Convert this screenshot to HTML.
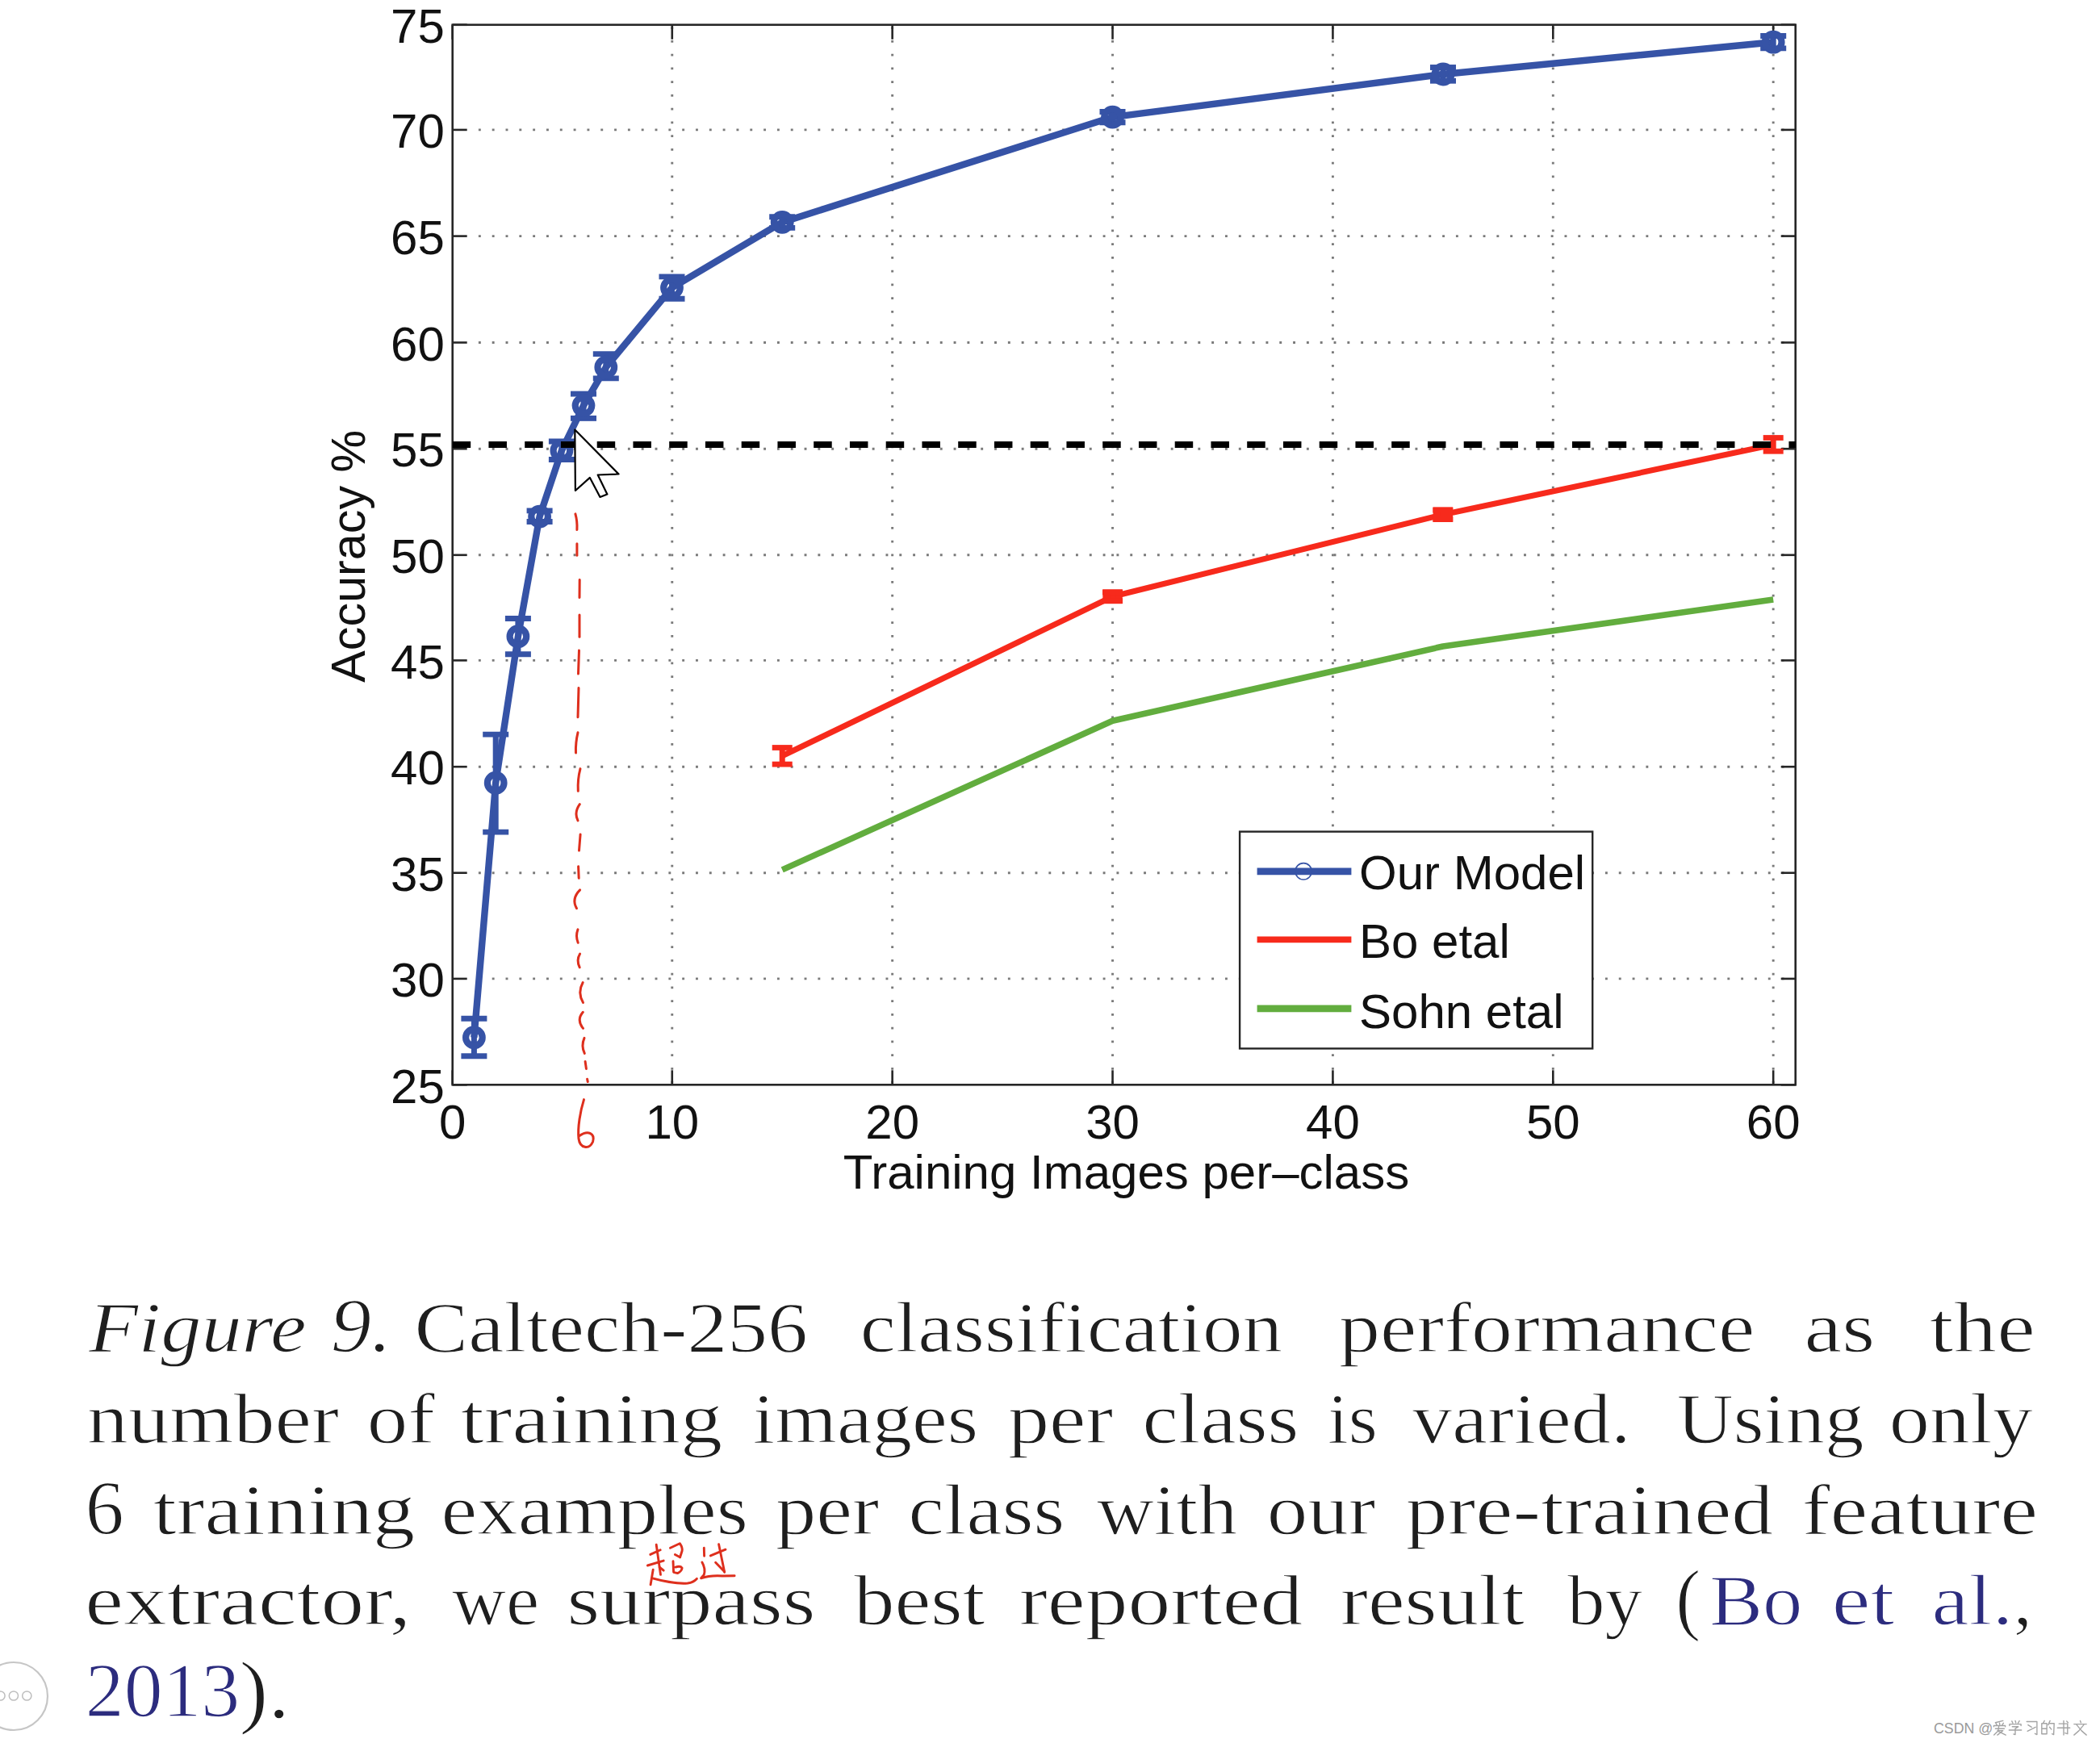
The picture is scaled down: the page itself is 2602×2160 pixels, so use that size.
<!DOCTYPE html>
<html><head><meta charset="utf-8"><style>
html,body{margin:0;padding:0;background:#fff;width:2602px;height:2160px;overflow:hidden}
svg{position:absolute;left:0;top:0}
.t{font-family:"Liberation Sans",sans-serif;font-size:60px;fill:#111}
.c{font-family:"Liberation Serif",serif;font-size:91px;stroke:#fff;stroke-width:1.3px;paint-order:normal}
</style></head><body>
<svg width="2602" height="2160" viewBox="0 0 2602 2160">
<line x1="832.78" y1="33.20" x2="832.78" y2="1344.30" stroke="#7a7a7a" stroke-width="2.9" stroke-dasharray="2.9 13.85"/>
<line x1="1105.66" y1="33.20" x2="1105.66" y2="1344.30" stroke="#7a7a7a" stroke-width="2.9" stroke-dasharray="2.9 13.85"/>
<line x1="1378.54" y1="33.20" x2="1378.54" y2="1344.30" stroke="#7a7a7a" stroke-width="2.9" stroke-dasharray="2.9 13.85"/>
<line x1="1651.42" y1="33.20" x2="1651.42" y2="1344.30" stroke="#7a7a7a" stroke-width="2.9" stroke-dasharray="2.9 13.85"/>
<line x1="1924.30" y1="33.20" x2="1924.30" y2="1344.30" stroke="#7a7a7a" stroke-width="2.9" stroke-dasharray="2.9 13.85"/>
<line x1="2197.18" y1="33.20" x2="2197.18" y2="1344.30" stroke="#7a7a7a" stroke-width="2.9" stroke-dasharray="2.9 13.85"/>
<line x1="592.90" y1="1212.90" x2="2224.70" y2="1212.90" stroke="#7a7a7a" stroke-width="2.9" stroke-dasharray="2.9 13.92"/>
<line x1="592.90" y1="1081.70" x2="2224.70" y2="1081.70" stroke="#7a7a7a" stroke-width="2.9" stroke-dasharray="2.9 13.92"/>
<line x1="592.90" y1="950.20" x2="2224.70" y2="950.20" stroke="#7a7a7a" stroke-width="2.9" stroke-dasharray="2.9 13.92"/>
<line x1="592.90" y1="818.40" x2="2224.70" y2="818.40" stroke="#7a7a7a" stroke-width="2.9" stroke-dasharray="2.9 13.92"/>
<line x1="592.90" y1="687.80" x2="2224.70" y2="687.80" stroke="#7a7a7a" stroke-width="2.9" stroke-dasharray="2.9 13.92"/>
<line x1="592.90" y1="556.20" x2="2224.70" y2="556.20" stroke="#7a7a7a" stroke-width="2.9" stroke-dasharray="2.9 13.92"/>
<line x1="592.90" y1="424.50" x2="2224.70" y2="424.50" stroke="#7a7a7a" stroke-width="2.9" stroke-dasharray="2.9 13.92"/>
<line x1="592.90" y1="292.60" x2="2224.70" y2="292.60" stroke="#7a7a7a" stroke-width="2.9" stroke-dasharray="2.9 13.92"/>
<line x1="592.90" y1="160.90" x2="2224.70" y2="160.90" stroke="#7a7a7a" stroke-width="2.9" stroke-dasharray="2.9 13.92"/>
<rect x="560.7" y="30.75" width="1663.9999999999998" height="1313.55" fill="none" stroke="#262626" stroke-width="2.6"/>
<line x1="560.70" y1="1344.3" x2="560.70" y2="1326.3" stroke="#262626" stroke-width="2.6"/>
<line x1="560.70" y1="30.75" x2="560.70" y2="48.75" stroke="#262626" stroke-width="2.6"/>
<line x1="832.78" y1="1344.3" x2="832.78" y2="1326.3" stroke="#262626" stroke-width="2.6"/>
<line x1="832.78" y1="30.75" x2="832.78" y2="48.75" stroke="#262626" stroke-width="2.6"/>
<line x1="1105.66" y1="1344.3" x2="1105.66" y2="1326.3" stroke="#262626" stroke-width="2.6"/>
<line x1="1105.66" y1="30.75" x2="1105.66" y2="48.75" stroke="#262626" stroke-width="2.6"/>
<line x1="1378.54" y1="1344.3" x2="1378.54" y2="1326.3" stroke="#262626" stroke-width="2.6"/>
<line x1="1378.54" y1="30.75" x2="1378.54" y2="48.75" stroke="#262626" stroke-width="2.6"/>
<line x1="1651.42" y1="1344.3" x2="1651.42" y2="1326.3" stroke="#262626" stroke-width="2.6"/>
<line x1="1651.42" y1="30.75" x2="1651.42" y2="48.75" stroke="#262626" stroke-width="2.6"/>
<line x1="1924.30" y1="1344.3" x2="1924.30" y2="1326.3" stroke="#262626" stroke-width="2.6"/>
<line x1="1924.30" y1="30.75" x2="1924.30" y2="48.75" stroke="#262626" stroke-width="2.6"/>
<line x1="2197.18" y1="1344.3" x2="2197.18" y2="1326.3" stroke="#262626" stroke-width="2.6"/>
<line x1="2197.18" y1="30.75" x2="2197.18" y2="48.75" stroke="#262626" stroke-width="2.6"/>
<line x1="560.7" y1="1344.30" x2="578.7" y2="1344.30" stroke="#262626" stroke-width="2.6"/>
<line x1="2224.7" y1="1344.30" x2="2206.7" y2="1344.30" stroke="#262626" stroke-width="2.6"/>
<line x1="560.7" y1="1212.90" x2="578.7" y2="1212.90" stroke="#262626" stroke-width="2.6"/>
<line x1="2224.7" y1="1212.90" x2="2206.7" y2="1212.90" stroke="#262626" stroke-width="2.6"/>
<line x1="560.7" y1="1081.70" x2="578.7" y2="1081.70" stroke="#262626" stroke-width="2.6"/>
<line x1="2224.7" y1="1081.70" x2="2206.7" y2="1081.70" stroke="#262626" stroke-width="2.6"/>
<line x1="560.7" y1="950.20" x2="578.7" y2="950.20" stroke="#262626" stroke-width="2.6"/>
<line x1="2224.7" y1="950.20" x2="2206.7" y2="950.20" stroke="#262626" stroke-width="2.6"/>
<line x1="560.7" y1="818.40" x2="578.7" y2="818.40" stroke="#262626" stroke-width="2.6"/>
<line x1="2224.7" y1="818.40" x2="2206.7" y2="818.40" stroke="#262626" stroke-width="2.6"/>
<line x1="560.7" y1="687.80" x2="578.7" y2="687.80" stroke="#262626" stroke-width="2.6"/>
<line x1="2224.7" y1="687.80" x2="2206.7" y2="687.80" stroke="#262626" stroke-width="2.6"/>
<line x1="560.7" y1="556.20" x2="578.7" y2="556.20" stroke="#262626" stroke-width="2.6"/>
<line x1="2224.7" y1="556.20" x2="2206.7" y2="556.20" stroke="#262626" stroke-width="2.6"/>
<line x1="560.7" y1="424.50" x2="578.7" y2="424.50" stroke="#262626" stroke-width="2.6"/>
<line x1="2224.7" y1="424.50" x2="2206.7" y2="424.50" stroke="#262626" stroke-width="2.6"/>
<line x1="560.7" y1="292.60" x2="578.7" y2="292.60" stroke="#262626" stroke-width="2.6"/>
<line x1="2224.7" y1="292.60" x2="2206.7" y2="292.60" stroke="#262626" stroke-width="2.6"/>
<line x1="560.7" y1="160.90" x2="578.7" y2="160.90" stroke="#262626" stroke-width="2.6"/>
<line x1="2224.7" y1="160.90" x2="2206.7" y2="160.90" stroke="#262626" stroke-width="2.6"/>
<line x1="560.7" y1="30.75" x2="578.7" y2="30.75" stroke="#262626" stroke-width="2.6"/>
<line x1="2224.7" y1="30.75" x2="2206.7" y2="30.75" stroke="#262626" stroke-width="2.6"/>
<text x="550.8" y="1366.50" text-anchor="end" class="t">25</text>
<text x="550.8" y="1235.10" text-anchor="end" class="t">30</text>
<text x="550.8" y="1103.90" text-anchor="end" class="t">35</text>
<text x="550.8" y="972.40" text-anchor="end" class="t">40</text>
<text x="550.8" y="840.60" text-anchor="end" class="t">45</text>
<text x="550.8" y="710.00" text-anchor="end" class="t">50</text>
<text x="550.8" y="578.40" text-anchor="end" class="t">55</text>
<text x="550.8" y="446.70" text-anchor="end" class="t">60</text>
<text x="550.8" y="314.80" text-anchor="end" class="t">65</text>
<text x="550.8" y="183.10" text-anchor="end" class="t">70</text>
<text x="550.8" y="52.95" text-anchor="end" class="t">75</text>
<text x="560.70" y="1411" text-anchor="middle" class="t">0</text>
<text x="832.78" y="1411" text-anchor="middle" class="t">10</text>
<text x="1105.66" y="1411" text-anchor="middle" class="t">20</text>
<text x="1378.54" y="1411" text-anchor="middle" class="t">30</text>
<text x="1651.42" y="1411" text-anchor="middle" class="t">40</text>
<text x="1924.30" y="1411" text-anchor="middle" class="t">50</text>
<text x="2197.18" y="1411" text-anchor="middle" class="t">60</text>
<text x="1395.5" y="1473.2" text-anchor="middle" class="t">Training Images per–class</text>
<text transform="translate(452.3 689.2) rotate(-90)" x="0" y="0" text-anchor="middle" class="t" style="font-size:59.3px">Accuracy %</text>
<polyline points="969.22,1077.90 1378.54,893.30 1787.86,801.00 2197.18,742.90" fill="none" stroke="#62ad3e" stroke-width="7.6" stroke-linejoin="round"/>
<polyline points="969.22,936.80 1378.54,739.30 1787.86,637.70 2197.18,551.00" fill="none" stroke="#f72a1c" stroke-width="7.1" stroke-linejoin="round"/>
<line x1="969.22" y1="926.5" x2="969.22" y2="947.1" stroke="#f72a1c" stroke-width="7"/>
<line x1="956.72" y1="926.5" x2="981.72" y2="926.5" stroke="#f72a1c" stroke-width="6.8"/>
<line x1="956.72" y1="947.1" x2="981.72" y2="947.1" stroke="#f72a1c" stroke-width="6.8"/>
<rect x="1366.34" y="730.40" width="24.4" height="17.80" fill="#f72a1c"/>
<line x1="1378.54" y1="734.0" x2="1378.54" y2="744.6" stroke="#f72a1c" stroke-width="7"/>
<line x1="1366.04" y1="734.0" x2="1391.04" y2="734.0" stroke="#f72a1c" stroke-width="6.8"/>
<line x1="1366.04" y1="744.6" x2="1391.04" y2="744.6" stroke="#f72a1c" stroke-width="6.8"/>
<rect x="1775.66" y="628.50" width="24.4" height="18.50" fill="#f72a1c"/>
<line x1="1787.86" y1="632.1" x2="1787.86" y2="643.4" stroke="#f72a1c" stroke-width="7"/>
<line x1="1775.36" y1="632.1" x2="1800.36" y2="632.1" stroke="#f72a1c" stroke-width="6.8"/>
<line x1="1775.36" y1="643.4" x2="1800.36" y2="643.4" stroke="#f72a1c" stroke-width="6.8"/>
<line x1="2197.18" y1="542.5" x2="2197.18" y2="559.2" stroke="#f72a1c" stroke-width="7"/>
<line x1="2184.68" y1="542.5" x2="2209.68" y2="542.5" stroke="#f72a1c" stroke-width="6.8"/>
<line x1="2184.68" y1="559.2" x2="2209.68" y2="559.2" stroke="#f72a1c" stroke-width="6.8"/>
<polyline points="587.40,1285.70 614.20,970.20 641.90,788.70 668.60,640.10 695.90,558.40 723.00,502.60 750.80,455.10 832.50,356.60 969.20,275.40 1378.50,145.10 1788.00,92.00 2197.20,52.20" fill="none" stroke="#3653a6" stroke-width="8.4" stroke-linejoin="round"/>
<line x1="587.40" y1="1262.3" x2="587.40" y2="1308.8" stroke="#3653a6" stroke-width="7"/>
<line x1="571.40" y1="1262.3" x2="603.40" y2="1262.3" stroke="#3653a6" stroke-width="6.9"/>
<line x1="571.40" y1="1308.8" x2="603.40" y2="1308.8" stroke="#3653a6" stroke-width="6.9"/>
<circle cx="587.40" cy="1285.7" r="10.3" fill="none" stroke="#3653a6" stroke-width="8.2"/>
<line x1="614.20" y1="910.1" x2="614.20" y2="1031.1" stroke="#3653a6" stroke-width="7"/>
<line x1="598.20" y1="910.1" x2="630.20" y2="910.1" stroke="#3653a6" stroke-width="6.9"/>
<line x1="598.20" y1="1031.1" x2="630.20" y2="1031.1" stroke="#3653a6" stroke-width="6.9"/>
<circle cx="614.20" cy="970.2" r="10.3" fill="none" stroke="#3653a6" stroke-width="8.2"/>
<line x1="641.90" y1="766.5" x2="641.90" y2="810.7" stroke="#3653a6" stroke-width="7"/>
<line x1="625.90" y1="766.5" x2="657.90" y2="766.5" stroke="#3653a6" stroke-width="6.9"/>
<line x1="625.90" y1="810.7" x2="657.90" y2="810.7" stroke="#3653a6" stroke-width="6.9"/>
<circle cx="641.90" cy="788.7" r="10.3" fill="none" stroke="#3653a6" stroke-width="8.2"/>
<line x1="668.60" y1="632.9" x2="668.60" y2="646.5" stroke="#3653a6" stroke-width="7"/>
<line x1="652.60" y1="632.9" x2="684.60" y2="632.9" stroke="#3653a6" stroke-width="6.9"/>
<line x1="652.60" y1="646.5" x2="684.60" y2="646.5" stroke="#3653a6" stroke-width="6.9"/>
<circle cx="668.60" cy="640.1" r="10.3" fill="none" stroke="#3653a6" stroke-width="8.2"/>
<line x1="695.90" y1="547.0" x2="695.90" y2="569.5" stroke="#3653a6" stroke-width="7"/>
<line x1="679.90" y1="547.0" x2="711.90" y2="547.0" stroke="#3653a6" stroke-width="6.9"/>
<line x1="679.90" y1="569.5" x2="711.90" y2="569.5" stroke="#3653a6" stroke-width="6.9"/>
<circle cx="695.90" cy="558.4" r="10.3" fill="none" stroke="#3653a6" stroke-width="8.2"/>
<line x1="723.00" y1="488.1" x2="723.00" y2="518.4" stroke="#3653a6" stroke-width="7"/>
<line x1="707.00" y1="488.1" x2="739.00" y2="488.1" stroke="#3653a6" stroke-width="6.9"/>
<line x1="707.00" y1="518.4" x2="739.00" y2="518.4" stroke="#3653a6" stroke-width="6.9"/>
<circle cx="723.00" cy="502.6" r="10.3" fill="none" stroke="#3653a6" stroke-width="8.2"/>
<line x1="750.80" y1="438.6" x2="750.80" y2="468.9" stroke="#3653a6" stroke-width="7"/>
<line x1="734.80" y1="438.6" x2="766.80" y2="438.6" stroke="#3653a6" stroke-width="6.9"/>
<line x1="734.80" y1="468.9" x2="766.80" y2="468.9" stroke="#3653a6" stroke-width="6.9"/>
<circle cx="750.80" cy="455.1" r="10.3" fill="none" stroke="#3653a6" stroke-width="8.2"/>
<line x1="832.50" y1="342.9" x2="832.50" y2="370.3" stroke="#3653a6" stroke-width="7"/>
<line x1="816.50" y1="342.9" x2="848.50" y2="342.9" stroke="#3653a6" stroke-width="6.9"/>
<line x1="816.50" y1="370.3" x2="848.50" y2="370.3" stroke="#3653a6" stroke-width="6.9"/>
<circle cx="832.50" cy="356.6" r="10.3" fill="none" stroke="#3653a6" stroke-width="8.2"/>
<line x1="969.20" y1="268.8" x2="969.20" y2="282.4" stroke="#3653a6" stroke-width="7"/>
<line x1="953.20" y1="268.8" x2="985.20" y2="268.8" stroke="#3653a6" stroke-width="6.9"/>
<line x1="953.20" y1="282.4" x2="985.20" y2="282.4" stroke="#3653a6" stroke-width="6.9"/>
<circle cx="969.20" cy="275.4" r="10.3" fill="none" stroke="#3653a6" stroke-width="8.2"/>
<line x1="1378.50" y1="138.5" x2="1378.50" y2="151.7" stroke="#3653a6" stroke-width="7"/>
<line x1="1362.50" y1="138.5" x2="1394.50" y2="138.5" stroke="#3653a6" stroke-width="6.9"/>
<line x1="1362.50" y1="151.7" x2="1394.50" y2="151.7" stroke="#3653a6" stroke-width="6.9"/>
<circle cx="1378.50" cy="145.1" r="10.3" fill="none" stroke="#3653a6" stroke-width="8.2"/>
<line x1="1788.00" y1="83.5" x2="1788.00" y2="100.2" stroke="#3653a6" stroke-width="7"/>
<line x1="1772.00" y1="83.5" x2="1804.00" y2="83.5" stroke="#3653a6" stroke-width="6.9"/>
<line x1="1772.00" y1="100.2" x2="1804.00" y2="100.2" stroke="#3653a6" stroke-width="6.9"/>
<circle cx="1788.00" cy="92.0" r="10.3" fill="none" stroke="#3653a6" stroke-width="8.2"/>
<line x1="2197.20" y1="44.5" x2="2197.20" y2="59.9" stroke="#3653a6" stroke-width="7"/>
<line x1="2181.20" y1="44.5" x2="2213.20" y2="44.5" stroke="#3653a6" stroke-width="6.9"/>
<line x1="2181.20" y1="59.9" x2="2213.20" y2="59.9" stroke="#3653a6" stroke-width="6.9"/>
<circle cx="2197.20" cy="52.2" r="10.3" fill="none" stroke="#3653a6" stroke-width="8.2"/>
<line x1="560.7" y1="551" x2="2224.7" y2="551" stroke="#000" stroke-width="8.2" stroke-dasharray="22.5 22.25"/>
<rect x="1536.1" y="1030.6" width="437.1" height="268.8" fill="#fff" stroke="#262626" stroke-width="2.4"/>
<line x1="1557.6" y1="1079.8" x2="1674.4" y2="1079.8" stroke="#3653a6" stroke-width="8.8"/>
<circle cx="1615.1" cy="1079.8" r="10.2" fill="none" stroke="#3653a6" stroke-width="1.6"/>
<line x1="1557.6" y1="1164.4" x2="1674.4" y2="1164.4" stroke="#f72a1c" stroke-width="7.6"/>
<line x1="1557.6" y1="1249.9" x2="1674.4" y2="1249.9" stroke="#62ad3e" stroke-width="8.6"/>
<text x="1684" y="1101.8" class="t">Our Model</text>
<text x="1684" y="1186.8" class="t">Bo etal</text>
<text x="1684" y="1273.7" class="t">Sohn etal</text>
<path d="M712.3,532.6 L712.9,608.0 L730.9,591.9 L743.5,615.9 L752.4,612.4 L740.7,588.5 L766.6,587.5 Z" fill="#fff" stroke="#000" stroke-width="2.2" stroke-linejoin="round"/>
<text transform="translate(110.00 1674.7) scale(1.1033 0.98)" class="c" font-style="italic" fill="#1e1e1e">Figure</text>
<text transform="translate(409.68 1674.7) scale(1.1053 1.05)" class="c" font-style="italic" fill="#1e1e1e">9.</text>
<text transform="translate(513.62 1674.7) scale(1.0959 0.98)" class="c" fill="#1e1e1e">Caltech-256</text>
<text transform="translate(1065.64 1674.7) scale(1.0905 0.98)" class="c" fill="#1e1e1e">classification</text>
<text transform="translate(1658.88 1674.7) scale(1.1209 0.98)" class="c" fill="#1e1e1e">performance</text>
<text transform="translate(2235.53 1674.7) scale(1.1571 0.98)" class="c" fill="#1e1e1e">as</text>
<text transform="translate(2390.82 1674.7) scale(1.1776 0.98)" class="c" fill="#1e1e1e">the</text>
<text transform="translate(107.75 1788.3) scale(1.1236 0.98)" class="c" fill="#1e1e1e">number</text>
<text transform="translate(454.67 1788.3) scale(1.1096 0.98)" class="c" fill="#1e1e1e">of</text>
<text transform="translate(570.85 1788.3) scale(1.1464 0.98)" class="c" fill="#1e1e1e">training</text>
<text transform="translate(932.83 1788.3) scale(1.0833 0.98)" class="c" fill="#1e1e1e">images</text>
<text transform="translate(1248.88 1788.3) scale(1.1228 0.98)" class="c" fill="#1e1e1e">per</text>
<text transform="translate(1415.62 1788.3) scale(1.0941 0.98)" class="c" fill="#1e1e1e">class</text>
<text transform="translate(1644.91 1788.3) scale(1.0200 0.98)" class="c" fill="#1e1e1e">is</text>
<text transform="translate(1750.00 1788.3) scale(1.0820 0.98)" class="c" fill="#1e1e1e">varied.</text>
<text transform="translate(2077.87 1788.3) scale(1.0654 0.98)" class="c" fill="#1e1e1e">Using</text>
<text transform="translate(2340.70 1788.3) scale(1.1013 0.98)" class="c" fill="#1e1e1e">only</text>
<text transform="translate(105.79 1900.9) scale(1.0513 1.05)" class="c" fill="#1e1e1e">6</text>
<text transform="translate(189.85 1900.9) scale(1.1464 0.98)" class="c" fill="#1e1e1e">training</text>
<text transform="translate(546.57 1900.9) scale(1.1071 0.98)" class="c" fill="#1e1e1e">examples</text>
<text transform="translate(960.89 1900.9) scale(1.1053 0.98)" class="c" fill="#1e1e1e">per</text>
<text transform="translate(1125.62 1900.9) scale(1.0941 0.98)" class="c" fill="#1e1e1e">class</text>
<text transform="translate(1359.00 1900.9) scale(1.0776 0.98)" class="c" fill="#1e1e1e">with</text>
<text transform="translate(1569.67 1900.9) scale(1.1111 0.98)" class="c" fill="#1e1e1e">our</text>
<text transform="translate(1741.86 1900.9) scale(1.1411 0.98)" class="c" fill="#1e1e1e">pre-trained</text>
<text transform="translate(2232.52 1900.9) scale(1.1585 0.98)" class="c" fill="#1e1e1e">feature</text>
<text transform="translate(105.28 2012.8) scale(1.1802 0.98)" class="c" fill="#1e1e1e">extractor,</text>
<text transform="translate(559.97 2012.8) scale(1.0200 0.98)" class="c" fill="#1e1e1e">we</text>
<text transform="translate(702.40 2012.8) scale(1.1494 0.98)" class="c" fill="#1e1e1e">surpass</text>
<text transform="translate(1058.00 2012.8) scale(1.1096 0.98)" class="c" fill="#1e1e1e">best</text>
<text transform="translate(1262.68 2012.8) scale(1.1600 0.98)" class="c" fill="#1e1e1e">reported</text>
<text transform="translate(1660.74 2012.8) scale(1.1300 0.98)" class="c" fill="#1e1e1e">result</text>
<text transform="translate(1942.00 2012.8) scale(1.0220 0.98)" class="c" fill="#1e1e1e">by</text>
<text transform="translate(2076.19 2014.3) scale(1.0200 1.1)" class="c" fill="#1e1e1e">(</text>
<text transform="translate(2118.24 2012.8) scale(1.0850 0.98)" class="c" fill="#2c2c7e">Bo</text>
<text transform="translate(2269.79 2012.8) scale(1.1800 0.98)" class="c" fill="#2c2c7e">et</text>
<text transform="translate(2393.58 2012.8) scale(1.1392 0.98)" class="c" fill="#2c2c7e">al.</text>
<text transform="translate(2494.80 2012.8) scale(1.0200 0.98)" class="c" fill="#1e1e1e">,</text>
<text transform="translate(105.79 2127.2) scale(1.0517 1.05)" class="c" fill="#2c2c7e">2013</text>
<text transform="translate(296.50 2128.7) scale(1.1800 1.12)" class="c" fill="#1e1e1e">).</text>
<g fill="none" stroke="#de2f1d" stroke-width="3.0" stroke-linecap="round" stroke-linejoin="round"><path d="M712.9,636.9 Q715.5,646 714.9,656.5"/><path d="M714.9,673.8 L714.9,688.3"/><path d="M718.2,718.4 L718,740.5"/><path d="M718,762 L718,789.3"/><path d="M717.5,806.1 L716.5,835"/><path d="M717,852.6 L716,888.8"/><path d="M716,907.8 Q713,920 713.5,933"/><path d="M719,952.6 Q715.5,966 716.3,980.3"/><path d="M718.3,996.7 Q711,1007 716,1016.9"/><path d="M719.1,1034 L717.5,1054.1"/><path d="M716.6,1073.7 L717.2,1088.2"/><path d="M718.6,1102.9 Q707.7,1114 714.5,1125.7"/><path d="M716,1151.8 Q712.9,1160 716.2,1168.3"/><path d="M718.6,1182 Q713.8,1190 718.2,1198.8"/><path d="M722.2,1217.5 Q715.2,1230 722.5,1242.4"/><path d="M722.3,1254.3 Q714,1264 722.5,1274.4"/><path d="M724,1286.4 Q719.8,1296 724.3,1305.4"/><path d="M725.1,1315.4 L726.4,1324.4"/><path d="M727.6,1337.2 L728.3,1340.6"/><path d="M723.5,1362.6 C719,1377 715.5,1397 717,1411 C718.5,1423 730,1425 734.5,1415 C737.5,1405 729,1400 718,1407.5"/></g>
<g fill="none" stroke="#de2f1d" stroke-width="2.9" stroke-linecap="round" stroke-linejoin="round"><path d="M805.8,1926.4 L818.2,1920.8"/><path d="M813.2,1914.3 L818.5,1951.4"/><path d="M802.4,1940 L822.2,1934.1"/><path d="M817.2,1942.1 L822.2,1946.2"/><path d="M809.2,1945.2 L806.1,1963.8"/><path d="M808.6,1955.8 C820,1959 840,1963 852,1962 C858,1961 861,1959 863.4,1956.4"/><path d="M830.5,1918.3 L842.3,1912.7 Q846,1918 845.1,1922 L842.6,1929.8"/><path d="M836.4,1926.4 L842.6,1929.8"/><path d="M834,1934.7 L834.6,1948.3 L839.5,1949.6 Q845,1947 845.1,1943 Q843,1940 837,1942.1"/><path d="M872.3,1918.3 L872.6,1928.2"/><path d="M869.9,1936 Q874.5,1944 872.3,1951.4 L868.6,1955.8 Q880,1952 895,1953 L910.1,1952.7"/><path d="M880.4,1927.9 L899,1920.2"/><path d="M890.6,1913.7 L897.7,1948.3"/><path d="M886.6,1936.3 L897.7,1947.7"/></g>
<circle cx="17" cy="2102" r="42" fill="none" stroke="#c6c6c6" stroke-width="2.2"/>
<circle cx="0.5" cy="2101.5" r="5.6" fill="none" stroke="#bdbdbd" stroke-width="1.5"/>
<circle cx="16.9" cy="2101.5" r="5.6" fill="none" stroke="#bdbdbd" stroke-width="1.5"/>
<circle cx="33.3" cy="2101.5" r="5.6" fill="none" stroke="#bdbdbd" stroke-width="1.5"/>
<text x="2396" y="2147.5" style="font-family:'Liberation Sans',sans-serif;font-size:17.8px" fill="#9a9a9a">CSDN @</text>
<path d="M2481.8,2132.4 L2472.4,2134.8 M2473.2,2135.7 L2474.1,2137.6 M2477.5,2135.3 L2477.8,2137.2 M2482.3,2135.3 L2480.9,2137.6 M2470.4,2139.8 L2470.4,2138.5 L2484.6,2138.5 L2484.6,2139.8 M2472.4,2142.2 L2483.4,2142.2 M2476.7,2139.0 L2475.8,2144.9 L2470.7,2150.1 M2474.9,2144.6 L2481.8,2144.6 L2474.9,2150.1 M2476.7,2145.9 L2485.2,2150.1 M2492.8,2132.9 L2493.9,2135.3 M2497.0,2132.4 L2497.8,2135.0 M2502.1,2132.6 L2500.4,2135.3 M2489.9,2138.5 L2489.9,2136.6 L2504.1,2136.6 L2504.1,2138.5 M2493.3,2139.8 L2500.7,2139.8 L2497.0,2142.2 M2497.0,2142.2 L2497.0,2149.6 L2495.0,2149.0 M2489.3,2144.0 L2504.7,2144.0 M2511.2,2133.5 L2523.9,2133.5 L2523.9,2149.6 L2521.4,2148.3 M2512.9,2137.6 L2517.2,2140.3 M2512.1,2145.3 L2522.2,2140.3 M2533.2,2132.4 L2531.6,2135.3 M2529.8,2135.7 L2536.1,2135.7 L2536.1,2148.7 L2529.8,2148.7 L2529.8,2135.7 M2529.8,2142.2 L2536.1,2142.2 M2540.1,2132.4 L2537.8,2137.6 M2538.9,2135.7 L2545.2,2135.7 L2544.6,2149.6 L2542.6,2148.7 M2539.5,2140.3 L2541.8,2143.1 M2551.1,2136.1 L2561.8,2136.1 L2561.8,2148.7 L2558.7,2147.7 M2549.3,2141.2 L2564.7,2141.2 M2557.0,2132.4 L2557.0,2150.1 M2560.7,2132.9 L2562.4,2134.8 M2577.5,2132.4 L2578.3,2134.8 M2569.8,2136.6 L2585.2,2136.6 M2573.2,2137.6 L2579.2,2144.9 L2585.2,2150.1 M2581.8,2137.6 L2575.8,2144.9 L2569.8,2150.1" fill="none" stroke="#a4a4a4" stroke-width="1.4" stroke-linecap="round" stroke-linejoin="round"/>
</svg>
</body></html>
